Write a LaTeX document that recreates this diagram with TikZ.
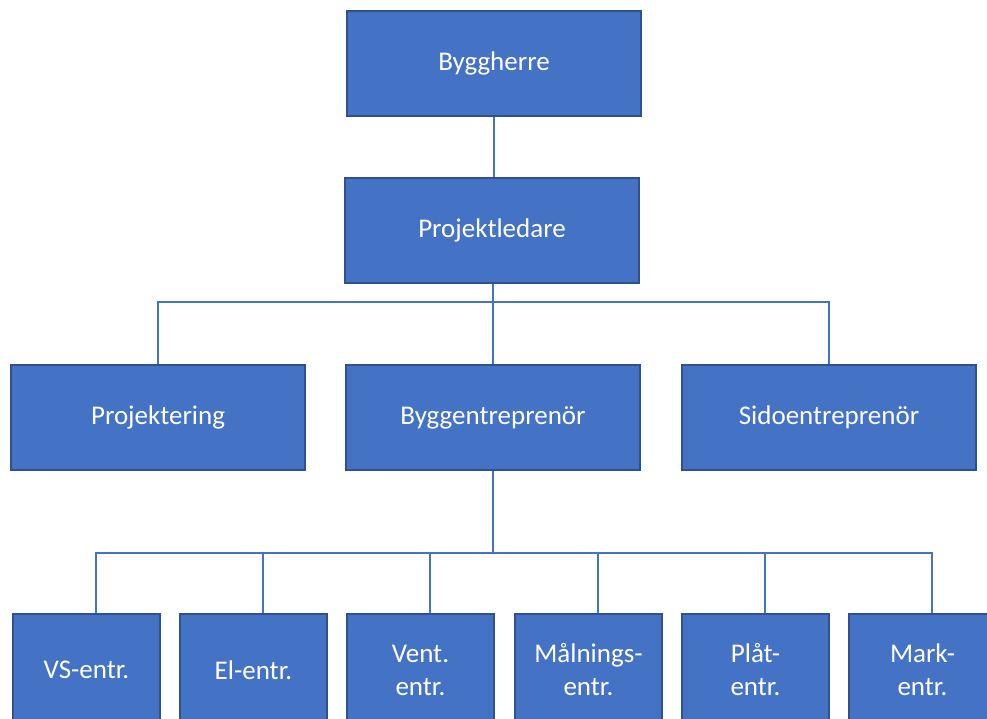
\documentclass[tikz,border=0pt]{standalone}
\usepackage{fontspec}
\setmainfont{Carlito}
\definecolor{boxfill}{HTML}{4472C4}
\definecolor{boxline}{HTML}{2F528F}
\definecolor{conn}{HTML}{4472C4}
\begin{document}
\begin{tikzpicture}[x=1pt,y=-1pt,
  orgbox/.style={draw=boxline,line width=1.3pt,fill=boxfill,text=white,
    minimum width=294pt,minimum height=105pt,inner sep=0pt,
    font=\fontsize{27}{33}\selectfont,align=center},
  smallbox/.style={orgbox,minimum width=147pt,minimum height=112pt},
  link/.style={draw=conn,line width=1.4pt}]
\useasboundingbox (0,0) rectangle (987,718);
\node[orgbox] (herre) at (494,63.5) {Byggherre};
\node[orgbox] (ledare) at (492,230.5) {Projektledare};
\node[orgbox] (proj) at (158,417.5) {Projektering};
\node[orgbox] (bygg) at (493,417.5) {Byggentreprenör};
\node[orgbox] (sido) at (829,417.5) {Sidoentreprenör};
\node[smallbox] (vs) at (86.5,670) {VS-entr.};
\node[smallbox] (el) at (253.5,670) {El-entr.};
\node[smallbox] (vent) at (420.5,670) {Vent.\\entr.};
\node[smallbox] (maln) at (588.5,670) {Målnings-\\entr.};
\node[smallbox] (plat) at (755.5,670) {Plåt-\\entr.};
\node[smallbox] (mark) at (922.5,670) {Mark-\\entr.};
\coordinate (bus1) at (493,302);
\coordinate (bus2) at (493,553);
\path[link] (herre.south) -- (herre.south |- ledare.north);
\path[link] (bus1 |- ledare.south) -- (bus1);
\path[link] (proj.north) |- (bus1) -| (sido.north);
\path[link] (bus1) -- (bus1 |- bygg.north);
\path[link] (bygg.south) -- (bus2);
\path[link] ([xshift=9.5pt]vs.north) |- (bus2) -| ([xshift=9.5pt]mark.north);
\foreach \n in {el,vent,maln,plat}{
  \path[link] ([xshift=9.5pt]\n.north) -- ([xshift=9.5pt]\n.north |- bus2);
}
\end{tikzpicture}
\end{document}
